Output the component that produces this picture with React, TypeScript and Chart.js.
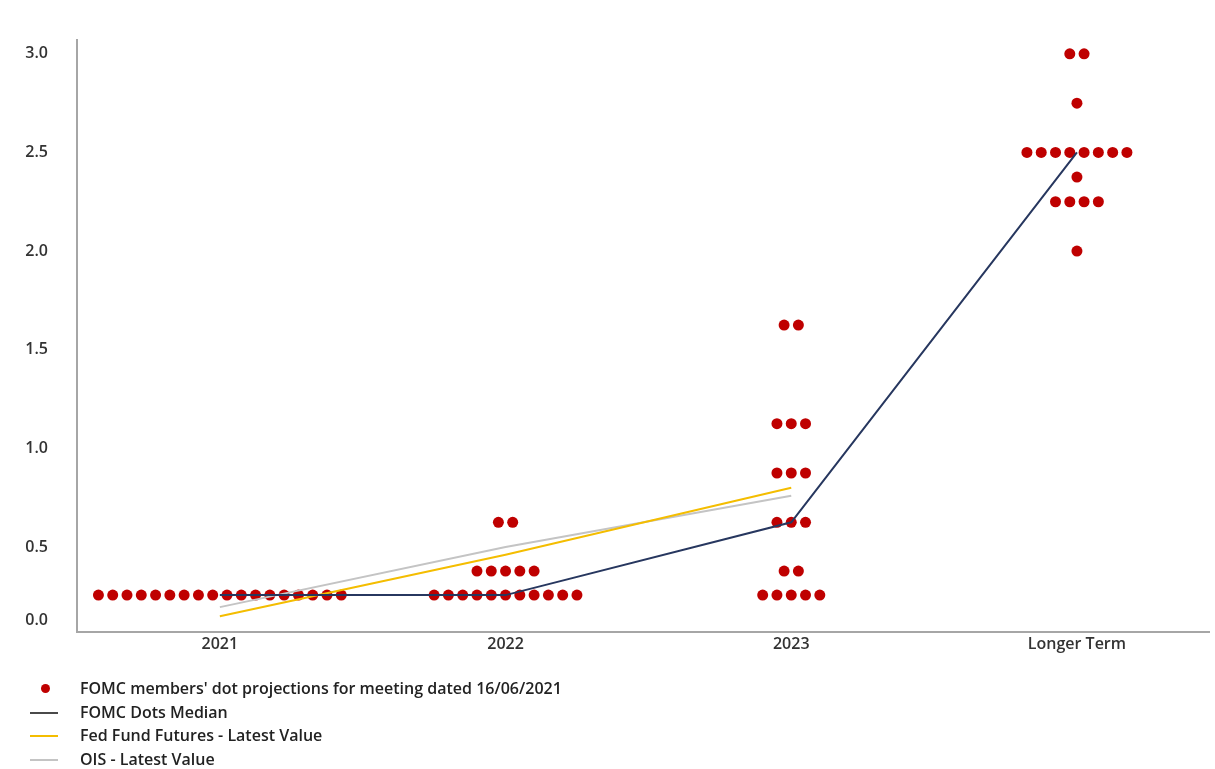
import { useEffect, useRef } from 'react';
import { Chart, registerables, LinearScale } from 'chart.js';

Chart.register(...registerables);

// ---------- data ----------
const CATEGORIES = ['2021', '2022', '2023', 'Longer Term'];
const Y_TICKS = [0, 0.5, 1.0, 1.5, 2.0, 2.5, 3.0];

// [rate, number of FOMC members]
const DOTS_2021: [number, number][] = [[0.125, 18]];
const DOTS_2022: [number, number][] = [[0.125, 11], [0.375, 5], [0.625, 2]];
const DOTS_2023: [number, number][] = [[0.125, 5], [0.375, 2], [0.625, 3], [0.875, 3], [1.125, 3], [1.625, 2]];
const DOTS_LONGER: [number, number][] = [[2.0, 1], [2.25, 4], [2.375, 1], [2.5, 8], [2.75, 1], [3.0, 2]];

const MEDIAN = [0.125, 0.125, 0.625, 2.5];
const FED_FUTURES = [0.02, 0.46, 0.8];
const OIS = [0.065, 0.5, 0.76];

const LABEL_DOTS = "FOMC members' dot projections for meeting dated 16/06/2021";
const LABEL_MEDIAN = 'FOMC Dots Median';
const LABEL_FUTURES = 'Fed Fund Futures - Latest Value';
const LABEL_OIS = 'OIS - Latest Value';

// ---------- style ----------
const DOT_COLOR = '#bf0000';
const MEDIAN_COLOR = '#27375f';
const FUTURES_COLOR = '#f4bd00';
const OIS_COLOR = '#c4c4c4';
const AXIS_COLOR = '#a6a6a6';
const TEXT_COLOR = '#333333';
const FONT_FAMILY = "'Open Sans', sans-serif";
const DOT_STEP = 0.05;

// the source chart's value axis is compressed below 0.5
const WARP_V = [0, 0.125, 0.375, 0.5];
const WARP_U = [0, 0.127, 0.249, 0.371];
function warp(v: number) {
  if (v <= 0) return v;
  if (v >= 0.5) return WARP_U[3] + (v - 0.5);
  for (let i = 1; i < WARP_V.length; i++) {
    if (v <= WARP_V[i]) {
      const t = (v - WARP_V[i - 1]) / (WARP_V[i] - WARP_V[i - 1]);
      return WARP_U[i - 1] + t * (WARP_U[i] - WARP_U[i - 1]);
    }
  }
  return v;
}
function unwarp(u: number) {
  if (u <= 0) return u;
  if (u >= WARP_U[3]) return 0.5 + (u - WARP_U[3]);
  for (let i = 1; i < WARP_U.length; i++) {
    if (u <= WARP_U[i]) {
      const t = (u - WARP_U[i - 1]) / (WARP_U[i] - WARP_U[i - 1]);
      return WARP_V[i - 1] + t * (WARP_V[i] - WARP_V[i - 1]);
    }
  }
  return u;
}

class WarpedScale extends LinearScale {
  static id = 'warped';
  static defaults = {};
  getPixelForValue(value: any) {
    if (value === null || value === undefined || isNaN(value)) return NaN;
    const a = warp((this as any).min);
    const b = warp((this as any).max);
    return this.getPixelForDecimal((warp(value) - a) / (b - a));
  }
  getValueForPixel(pixel: number) {
    const a = warp((this as any).min);
    const b = warp((this as any).max);
    return unwarp(a + this.getDecimalForPixel(pixel) * (b - a));
  }
}
Chart.register(WarpedScale as any);

function dotPoints() {
  const groups = [DOTS_2021, DOTS_2022, DOTS_2023, DOTS_LONGER];
  const pts: { x: number; y: number }[] = [];
  groups.forEach((rows, ci) => {
    rows.forEach(([rate, n]) => {
      for (let k = 0; k < n; k++) {
        pts.push({ x: ci + (k - (n - 1) / 2) * DOT_STEP, y: rate });
      }
    });
  });
  return pts;
}

const LEGEND = [
  { label: LABEL_DOTS, kind: 'dot', color: DOT_COLOR },
  { label: LABEL_MEDIAN, kind: 'line', color: '#4a4a4a' },
  { label: LABEL_FUTURES, kind: 'line', color: FUTURES_COLOR },
  { label: LABEL_OIS, kind: 'line', color: OIS_COLOR },
];

export default function App() {
  const ref = useRef<HTMLCanvasElement | null>(null);

  useEffect(() => {
    document.body.style.margin = '0';
    const canvas = ref.current;
    if (!canvas) return;
    const tickFont = { family: FONT_FAMILY, size: 16, weight: 600 as any };
    const chart = new Chart(canvas, {
      type: 'scatter',
      data: {
        datasets: [
          {
            type: 'line',
            label: LABEL_MEDIAN,
            data: MEDIAN.map((y, i) => ({ x: i, y })),
            borderColor: MEDIAN_COLOR,
            borderWidth: 2,
            pointRadius: 0,
            tension: 0,
            order: 1,
          } as any,
          {
            type: 'line',
            label: LABEL_FUTURES,
            data: FED_FUTURES.map((y, i) => ({ x: i, y })),
            borderColor: FUTURES_COLOR,
            borderWidth: 2,
            pointRadius: 0,
            tension: 0,
            order: 2,
          },
          {
            type: 'line',
            label: LABEL_OIS,
            data: OIS.map((y, i) => ({ x: i, y })),
            borderColor: OIS_COLOR,
            borderWidth: 2,
            pointRadius: 0,
            tension: 0,
            order: 3,
          },
          {
            type: 'scatter',
            label: LABEL_DOTS,
            data: dotPoints(),
            backgroundColor: DOT_COLOR,
            borderWidth: 0,
            pointRadius: 5.5,
            order: 10,
          },
        ],
      },
      options: {
        animation: false,
        responsive: false,
        layout: { padding: { top: 40, left: 0, right: 0, bottom: 107 } },
        plugins: { legend: { display: false }, tooltip: { enabled: false } },
        scales: {
          x: {
            type: 'linear',
            min: -0.5,
            max: 3.464,
            grid: { display: false, drawTicks: false },
            border: { display: true, color: AXIS_COLOR, width: 2 },
            afterBuildTicks: (s: any) => {
              s.ticks = CATEGORIES.map((_, i) => ({ value: i }));
            },
            afterFit: (s: any) => {
              s.height = 30;
            },
            ticks: {
              padding: 3,
              color: TEXT_COLOR,
              font: tickFont,
              maxRotation: 0,
              autoSkip: false,
              callback: (v: any) => CATEGORIES[Math.round(Number(v))] ?? '',
            },
          },
          y: {
            type: 'warped' as any,
            min: -0.06,
            max: 3.07,
            grid: { display: false, drawTicks: false },
            border: { display: true, color: AXIS_COLOR, width: 2 },
            afterBuildTicks: (s: any) => {
              s.ticks = Y_TICKS.map((v) => ({ value: v }));
            },
            afterFit: (s: any) => {
              s.width = 77;
            },
            ticks: {
              padding: 29,
              color: TEXT_COLOR,
              font: tickFont,
              callback: (v: any) => Number(v).toFixed(1),
            },
          },
        },
      },
    });
    return () => chart.destroy();
  }, []);

  return (
    <div style={{ position: 'relative', width: 1215, height: 769, background: '#fff' }}>
      <canvas ref={ref} width={1215} height={769} style={{ display: 'block' }} />
      <div style={{ position: 'absolute', left: 0, top: 677, fontFamily: FONT_FAMILY }}>
        {LEGEND.map((it) => (
          <div key={it.label} style={{ display: 'flex', alignItems: 'center', height: 23.5, position: 'relative' }}>
            <div style={{ width: 80, height: 23.5, position: 'relative' }}>
              {it.kind === 'dot' ? (
                <div style={{ position: 'absolute', left: 41, top: 7, width: 9, height: 9, borderRadius: '50%', background: it.color }} />
              ) : (
                <div style={{ position: 'absolute', left: 30, top: 11, width: 28, height: 2, background: it.color }} />
              )}
            </div>
            <span style={{ fontSize: 16, fontWeight: 600, color: '#222', whiteSpace: 'nowrap', lineHeight: '23.5px' }}>{it.label}</span>
          </div>
        ))}
      </div>
    </div>
  );
}
